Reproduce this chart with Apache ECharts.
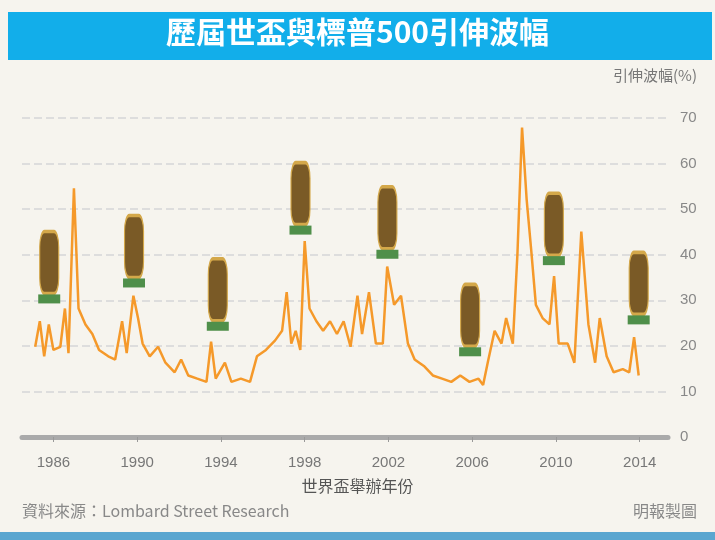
<!DOCTYPE html>
<html><head><meta charset="utf-8">
<script src="https://cdn.jsdelivr.net/npm/echarts@6/dist/echarts.min.js"></script>
<style>html,body{margin:0;padding:0;background:#f6f4ee}#c{width:715px;height:540px}</style>
</head><body><div id="c"></div>
<script>
const years=[1985.13,1985.35,1985.56,1985.78,1986.0,1986.33,1986.55,1986.72,1986.98,1987.2,1987.53,1987.86,1988.18,1988.62,1988.95,1989.28,1989.5,1989.82,1990.04,1990.26,1990.6,1991.0,1991.35,1991.79,1992.1,1992.44,1992.87,1993.31,1993.53,1993.75,1994.19,1994.5,1994.95,1995.39,1995.72,1996.15,1996.59,1996.92,1997.14,1997.36,1997.57,1997.79,1998.0,1998.23,1998.56,1998.88,1999.21,1999.54,1999.86,2000.19,2000.52,2000.74,2001.07,2001.4,2001.73,2001.94,2002.27,2002.6,2002.93,2003.25,2003.69,2004.12,2004.56,2005.0,2005.43,2005.87,2006.3,2006.52,2006.74,2007.07,2007.4,2007.62,2007.94,2008.16,2008.38,2008.6,2008.82,2009.04,2009.36,2009.69,2009.91,2010.13,2010.56,2010.88,2011.21,2011.55,2011.87,2012.09,2012.42,2012.75,2013.19,2013.5,2013.73,2013.95];
const vix=[19.8,25.4,17.7,24.7,19.1,19.8,28.2,18.4,54.6,28.2,24.7,22.6,19.1,17.7,17.0,25.4,18.4,31.0,26.1,20.5,17.7,19.8,16.3,14.2,17.0,13.5,12.8,12.1,20.9,12.8,16.3,12.1,12.8,12.1,17.7,19.1,21.2,23.3,31.8,20.5,23.3,19.1,43.0,28.2,25.4,23.3,25.4,22.6,25.4,19.8,31.0,22.6,31.8,20.5,20.5,37.4,29.0,31.0,20.5,17.0,15.6,13.5,12.8,12.1,13.5,12.1,12.8,11.4,16.3,23.3,20.5,26.1,20.5,40.2,67.9,52.1,40.9,29.0,26.1,24.7,35.3,20.5,20.5,16.3,45.1,24.7,16.3,26.1,17.7,14.2,14.9,14.2,21.9,13.5];
const cupYears=[1985.8,1989.85,1993.85,1997.8,2001.95,2005.9,2009.9,2013.95];
const cupBase=[29.3,32.8,23.3,44.4,39.1,17.7,37.7,24.7];
const tickYears=[1986,1990,1994,1998,2002,2006,2010,2014];
const ch=echarts.init(document.getElementById('c'));
const lineData=years.map((y,i)=>[y,vix[i]]);
const cupBody=cupYears.map((y,i)=>[y,cupBase[i]+9]);
const cupFoot=cupYears.map((y,i)=>[y,cupBase[i]+1]);
ch.setOption({
 backgroundColor:'#f6f4ee',
 animation:false,
 graphic:[
  {type:'rect',shape:{x:8,y:12,width:704,height:48},style:{fill:'#12aeea'}},
  {type:'text',left:'center',top:17,style:{text:'歷屆世盃與標普500引伸波幅',fill:'#fff',font:'bold 30px "Noto Sans CJK TC"'}},
  {type:'text',right:18,top:68,style:{text:'引伸波幅(%)',fill:'#777',font:'15px "Noto Sans CJK TC"'}},
  {type:'text',left:'center',top:478,style:{text:'世界盃舉辦年份',fill:'#555',font:'16px "Noto Sans CJK TC"'}},
  {type:'text',left:22,top:503,style:{text:'資料來源：Lombard Street Research',fill:'#888',font:'16px "Noto Sans CJK TC"'}},
  {type:'text',right:18,top:503,style:{text:'明報製圖',fill:'#888',font:'16px "Noto Sans CJK TC"'}},
  {type:'rect',shape:{x:0,y:532,width:715,height:8},style:{fill:'#5aa6d0'}}
 ],
 grid:{left:22,right:47,top:118,bottom:103},
 xAxis:{type:'value',min:1984.5,max:2015.35,offset:8,
  axisLine:{show:true,lineStyle:{color:'#aaa',width:5}},
  axisTick:{show:true,customValues:tickYears,length:5,lineStyle:{color:'#999'}},
  axisLabel:{customValues:tickYears,formatter:v=>String(Math.round(v)),color:'#777',fontSize:15,fontFamily:'Liberation Sans Narrow, Liberation Sans',margin:10},
  splitLine:{show:false}},
 yAxis:{type:'value',position:'right',min:0,max:70,interval:10,
  axisLine:{show:false},axisTick:{show:false},
  axisLabel:{color:'#888',fontSize:15,margin:12},
  splitLine:{lineStyle:{color:'#ddd',type:'dashed',width:2}}},
 series:[
  {type:'line',data:lineData,showSymbol:false,lineStyle:{color:'#f5992a',width:2.5},z:2},
  {type:'scatter',data:cupBody,symbol:'roundRect',symbolSize:[19,62],itemStyle:{color:'#7a5a26',borderColor:'#d4a84a',borderWidth:2,opacity:1},z:3},
  {type:'scatter',data:cupFoot,symbol:'rect',symbolSize:[22,9],itemStyle:{color:'#4f8f4a',opacity:1},z:4}
 ]
});
</script></body></html>
